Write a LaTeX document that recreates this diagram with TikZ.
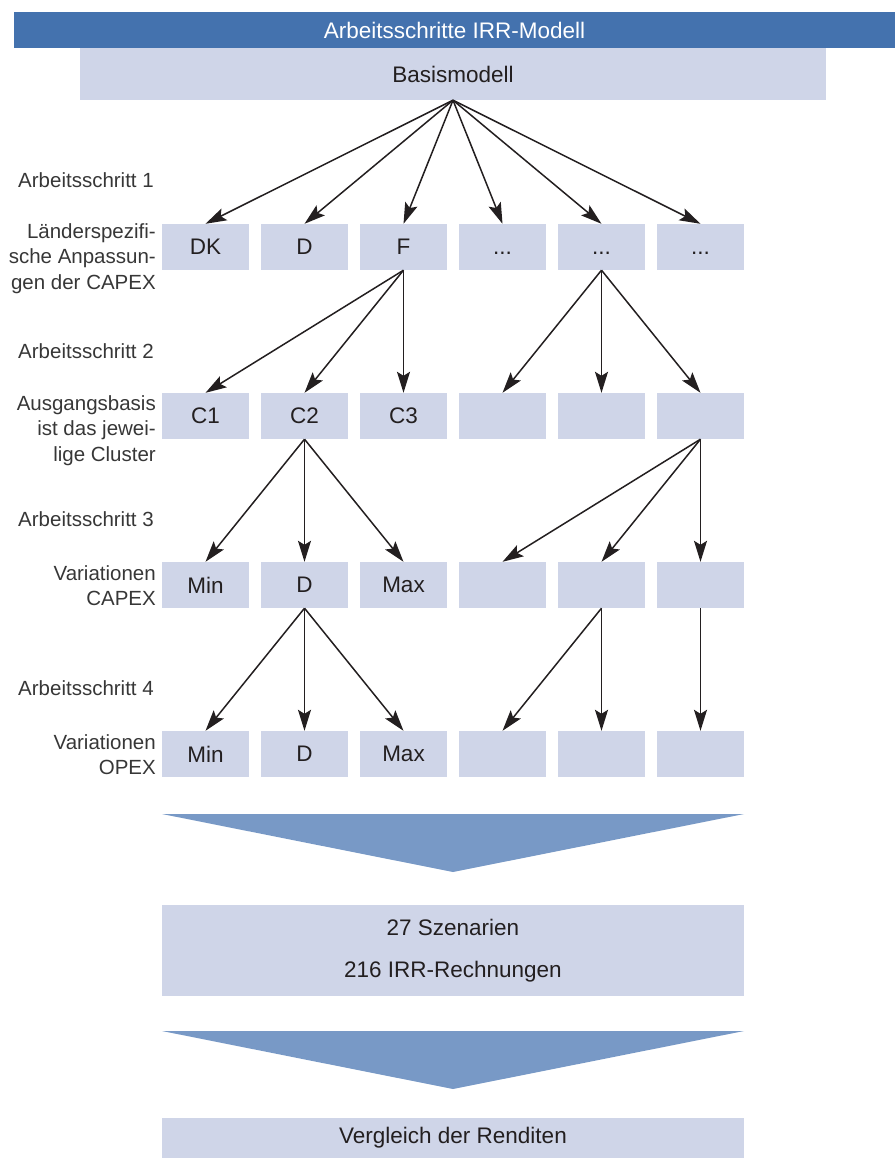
\documentclass[tikz,border=0pt]{standalone}
\usepackage{fontspec}
\setmainfont{Liberation Sans}
\usetikzlibrary{arrows.meta}
\definecolor{hdr}{RGB}{68,114,174}
\definecolor{boxfill}{RGB}{207,213,232}
\definecolor{chev}{RGB}{120,153,198}
\definecolor{txt}{RGB}{35,31,32}
\definecolor{lbl}{RGB}{55,55,55}
\begin{document}
\begin{tikzpicture}[x=1pt,y=-1pt,
  bx/.style={fill=boxfill, minimum width=87pt, minimum height=46pt, inner sep=0pt, text=txt, font=\fontsize{22.5}{26}\selectfont},
  bt/.style={text=txt, font=\fontsize{22.5}{26}\selectfont},
  wide/.style={fill=boxfill, inner sep=0pt, text=txt, font=\fontsize{22.5}{26}\selectfont, align=center},
  lab/.style={anchor=east, align=right, text=lbl, inner sep=0pt, font=\fontsize{20.5}{25.5}\selectfont},
  arr/.style={-{Stealth[length=21pt,width=13pt,inset=4pt]}, line width=1.5pt, txt},
  chevron/.style={fill=chev}
]
\useasboundingbox (0,0) rectangle (895,1159);
% header
\node[fill=hdr, minimum width=881pt, minimum height=36pt, inner sep=0pt, text=white, font=\fontsize{22.5}{26}\selectfont] (header) at (454.5,30) {Arbeitsschritte IRR-Modell};
\node[wide, minimum width=746pt, minimum height=52pt] (basis) at (453,74) {Basismodell};
% rows
\foreach \i/\x in {1/205.5,2/304.5,3/403.5,4/502.5,5/601.5,6/700.5}{
  \node[bx] (a\i) at (\x,247) {};
  \node[bx] (b\i) at (\x,416) {};
  \node[bx] (c\i) at (\x,585) {};
  \node[bx] (d\i) at (\x,754) {};
}
\node[bt] at (a1) {DK};
\node[bt] at (a2) {D};
\node[bt] at (a3) {F};
\node[bt] at (a4) {\vphantom{D}...};
\node[bt] at (a5) {\vphantom{D}...};
\node[bt] at (a6) {\vphantom{D}...};
\node[bt] at (b1) {C1};
\node[bt] at (b2) {C2};
\node[bt] at (b3) {C3};
\node[bt] at (c1) {Min};
\node[bt] at (c2) {D};
\node[bt] at (c3) {Max};
\node[bt] at (d1) {Min};
\node[bt] at (d2) {D};
\node[bt] at (d3) {Max};
% left labels
\node[lab] (s1) at (154,180) {Arbeitsschritt 1};
\node[lab] (l1) at (156,258.5) {Länderspezifi-\\sche Anpassun-\\gen der CAPEX};
\node[lab] (s2) at (154,351) {Arbeitsschritt 2};
\node[lab] (l2) at (156,430.5) {Ausgangsbasis\\ist das jewei-\\lige Cluster};
\node[lab] (s3) at (154,519) {Arbeitsschritt 3};
\node[lab] (l3) at (156,585.5) {Variationen\\CAPEX};
\node[lab] (s4) at (154,688) {Arbeitsschritt 4};
\node[lab] (l4) at (156,754.5) {Variationen\\OPEX};
% arrows
\foreach \i in {1,...,6}{\draw[arr] (basis.south) -- (a\i.north);}
\foreach \i in {1,2,3}{\draw[arr] (a3.south) -- (b\i.north);}
\foreach \i in {4,5,6}{\draw[arr] (a5.south) -- (b\i.north);}
\foreach \i in {1,2,3}{\draw[arr] (b2.south) -- (c\i.north);}
\foreach \i in {4,5,6}{\draw[arr] (b6.south) -- (c\i.north);}
\foreach \i in {1,2,3}{\draw[arr] (c2.south) -- (d\i.north);}
\foreach \i in {4,5}{\draw[arr] (c5.south) -- (d\i.north);}
\draw[arr] (c6.south) -- (d6.north);
% chevrons and results
\fill[chevron] (162,814) -- (744,814) -- (453,872) -- cycle;
\node[wide, minimum width=582pt, minimum height=91pt, font=\fontsize{22.5}{42}\selectfont] (scen) at (453,950.5) {27 Szenarien\\216 IRR-Rechnungen};
\fill[chevron] (162,1031) -- (744,1031) -- (453,1089) -- cycle;
\node[wide, minimum width=582pt, minimum height=40pt] (verg) at (453,1138) {Vergleich der Renditen};
\end{tikzpicture}
\end{document}
